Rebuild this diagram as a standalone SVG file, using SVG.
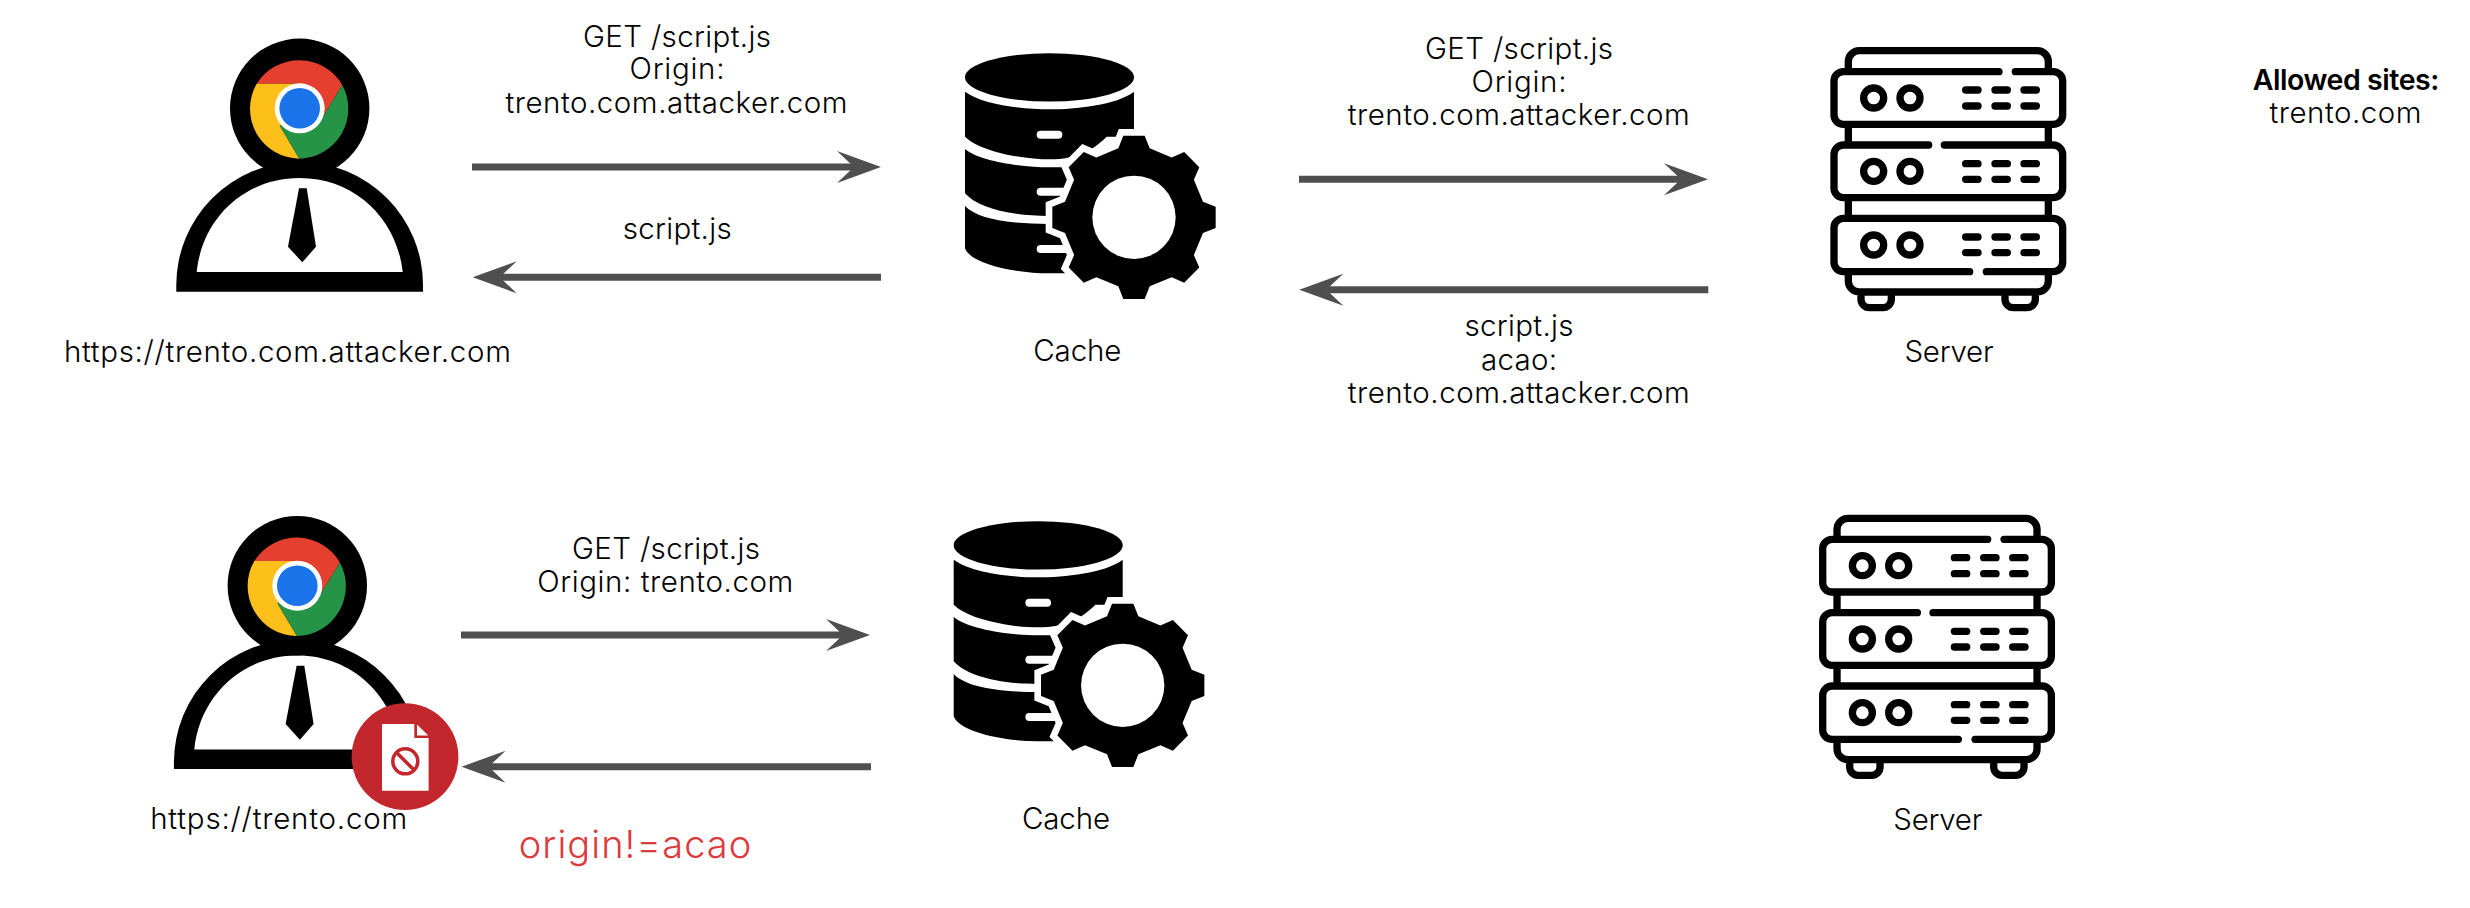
<svg xmlns="http://www.w3.org/2000/svg" xmlns:xlink="http://www.w3.org/1999/xlink" width="2470" height="908" viewBox="0 0 2470 908">
<style>
text{font-family:Inter,"Noto Sans","Liberation Sans",sans-serif;font-size:29.5px;font-weight:300;fill:#000;text-anchor:middle}
.bold{font-weight:600;font-size:28.5px}
.warn{fill:#dc3a3c;font-size:38px}
.arrow{stroke:#4f4f4f;stroke-width:7;fill:none;marker-end:url(#head)}
.rack{fill:none;stroke:#000;stroke-width:22;stroke-linecap:round}
.butt{stroke-linecap:butt}
</style>
<defs>
<marker id="head" markerUnits="userSpaceOnUse" markerWidth="44" markerHeight="32" refX="17" refY="16" orient="auto" overflow="visible">
<path d="M0,0L44,16L0,32L17,16Z" fill="#4f4f4f"/>
</marker>
<g id="person">
<path fill-rule="evenodd" d="M176.300,291.700V285A123.300,123 0 0 1 423,285V291.700ZM196.700,272H402.700C397,219 355,178 299.700,178C244,178 202,219 196.700,272Z"/>
<circle cx="299.700" cy="108.300" r="69.700"/>
<path d="M299,188.300H306.700L316,246.700L302.300,262.300L288,246.700Z"/>
<path fill="#e53f2f" d="M256.700,83.700A50,50 0 0 1 342.300,85L321,120L299.700,108V83.700Z"/>
<path fill="#fdc01a" d="M256.700,83.700H299.700V108L280,126L299.300,158.700A50,50 0 0 1 256.700,83.700Z"/>
<path fill="#269446" d="M342.300,85A50,50 0 0 1 299.300,158.700L280,126L299.700,108L321,120Z"/>
<circle cx="299.700" cy="108.300" r="25" fill="#fff"/>
<circle cx="299.700" cy="108.300" r="20.300" fill="#1a73e8"/>
</g>
<g id="db" transform="translate(940,30) scale(.33333)">
<ellipse cx="328.500" cy="142" rx="253.500" ry="72.500"/>
<path d="M75,185C130,225 250,238 328,238S530,225 582,185V320H500C460,360 410,388 328,388C250,388 120,365 75,320Z"/>
<path d="M75,357C120,395 250,412 328,412H500V558H328C200,558 110,530 75,490Z"/>
<path d="M75,528C110,565 200,582 328,582H500V730H328C220,730 90,700 75,655Z"/>
<rect x="290" y="302" width="77" height="24" rx="12" fill="#fff"/>
<rect x="290" y="473" width="110" height="24" rx="12" fill="#fff"/>
<rect x="290" y="645" width="110" height="24" rx="12" fill="#fff"/>
<path transform="translate(582,562)" fill="#000" stroke="#fff" stroke-width="40" stroke-linejoin="miter" paint-order="stroke" d="M207,-47L245,-32V32L207,47L179.600,113.100L195.900,150.600L150.600,195.900L113.100,179.600L47,207L32,245H-32L-47,207L-113.100,179.600L-150.600,195.900L-195.900,150.600L-179.600,113.100L-207,47L-245,32V-32L-207,-47L-179.600,-113.100L-195.900,-150.600L-150.600,-195.900L-113.100,-179.600L-47,-207L-32,-245H32L47,-207L113.100,-179.600L150.600,-195.900L195.900,-150.600L179.600,-113.100Z"/>
<circle cx="582" cy="562" r="125" fill="#fff"/>
</g>
<g id="rackart" transform="translate(1810,30) scale(.33333)">
<path class="rack" d="M616,125H730A28,28 0 0 1 758,153V255A28,28 0 0 1 730,283H100A28,28 0 0 1 72,255V153A28,28 0 0 1 100,125H567"/>
<path class="rack" d="M403,345H730A28,28 0 0 1 758,373V475A28,28 0 0 1 730,503H100A28,28 0 0 1 72,475V373A28,28 0 0 1 100,345H356"/>
<path class="rack" d="M529,725H730A28,28 0 0 0 758,697V593A28,28 0 0 0 730,565H100A28,28 0 0 0 72,593V697A28,28 0 0 0 100,725H479"/>
<path class="rack butt" d="M115,125V95A33,33 0 0 1 148,62H682A33,33 0 0 1 715,95V125M115,283V345M715,283V345M115,503V565M715,503V565M115,725V753A33,33 0 0 0 148,786H682A33,33 0 0 0 715,753V725M153,786V808A25,25 0 0 0 178,833H219A25,25 0 0 0 244,808V786M585,786V808A25,25 0 0 0 610,833H651A25,25 0 0 0 676,808V786"/>
<path class="rack" d="M467,180H504M555,180H592M642,180H679M467,228H504M555,228H592M642,228H679M467,401H504M555,401H592M642,401H679M467,448H504M555,448H592M642,448H679M467,621H504M555,621H592M642,621H679M467,668H504M555,668H592M642,668H679"/>
<g class="rack">
<circle cx="191" cy="204" r="30"/><circle cx="300" cy="204" r="30"/>
<circle cx="191" cy="424" r="30"/><circle cx="300" cy="424" r="30"/>
<circle cx="191" cy="645" r="30"/><circle cx="300" cy="645" r="30"/>
</g>
</g>
</defs>

<g id="connectors">
<line class="arrow" x1="472" y1="167" x2="854" y2="167"/>
<line class="arrow" x1="881" y1="277.300" x2="499.700" y2="277.300"/>
<line class="arrow" x1="1299" y1="179.300" x2="1681" y2="179.300"/>
<line class="arrow" x1="1708.300" y1="289.700" x2="1326.300" y2="289.700"/>
<line class="arrow" x1="461" y1="635" x2="843" y2="635"/>
<line class="arrow" x1="871" y1="766.700" x2="488.600" y2="766.700"/>
</g>

<g id="client-top">
<use href="#person"/>
<text x="287.400" y="361.700" textLength="447">https://trento.com.attacker.com</text>
</g>
<g id="cache-top">
<use href="#db"/>
<text x="1077.300" y="360.800" textLength="88">Cache</text>
</g>
<g id="server-top">
<use href="#rackart"/>
<text x="1949" y="361.800" textLength="89">Server</text>
</g>
<g id="allowed-sites">
<text class="bold" x="2346" y="90" textLength="186.700">Allowed sites:</text>
<text x="2345.500" y="123.300" textLength="152">trento.com</text>
</g>

<g id="labels-top">
<text x="677" y="46.700" textLength="188">GET /script.js</text>
<text x="677" y="79" textLength="95">Origin:</text>
<text x="676.500" y="112.700" textLength="342">trento.com.attacker.com</text>
<text x="677.200" y="238.700" textLength="109">script.js</text>
<text x="1519" y="58.700" textLength="188">GET /script.js</text>
<text x="1519" y="92" textLength="95">Origin:</text>
<text x="1518.800" y="125" textLength="342">trento.com.attacker.com</text>
<text x="1519" y="336" textLength="109">script.js</text>
<text x="1519" y="370" textLength="76">acao:</text>
<text x="1518.800" y="402.700" textLength="342">trento.com.attacker.com</text>
</g>

<g id="client-bottom">
<use href="#person" transform="translate(-2.400,477.400)"/>
<text x="278.700" y="829.300" textLength="257">https://trento.com</text>
</g>
<g id="blocked-badge">
<circle cx="405" cy="756.700" r="53.400" fill="#c1272d"/>
<path fill="#fff" d="M382,724H414.300V738H428.600V790.700H382ZM417,724.500L428.300,735.500H417Z"/>
<circle cx="405.300" cy="761.300" r="12.500" fill="none" stroke="#c1272d" stroke-width="3.500"/>
<path d="M396.500,752.500L414,770" stroke="#c1272d" stroke-width="3.500" fill="none"/>
</g>
<g id="cache-bottom">
<use href="#db" transform="translate(-11.300,468)"/>
<text x="1066" y="828.800" textLength="88">Cache</text>
</g>
<g id="server-bottom">
<use href="#rackart" transform="translate(-11.300,467.700)"/>
<text x="1937.800" y="829.500" textLength="89">Server</text>
</g>
<g id="labels-bottom">
<text x="666" y="558.700" textLength="188">GET /script.js</text>
<text x="665.300" y="592" textLength="256">Origin: trento.com</text>
<text class="warn" x="635" y="858.300" textLength="232.600">origin!=acao</text>
</g>
</svg>
